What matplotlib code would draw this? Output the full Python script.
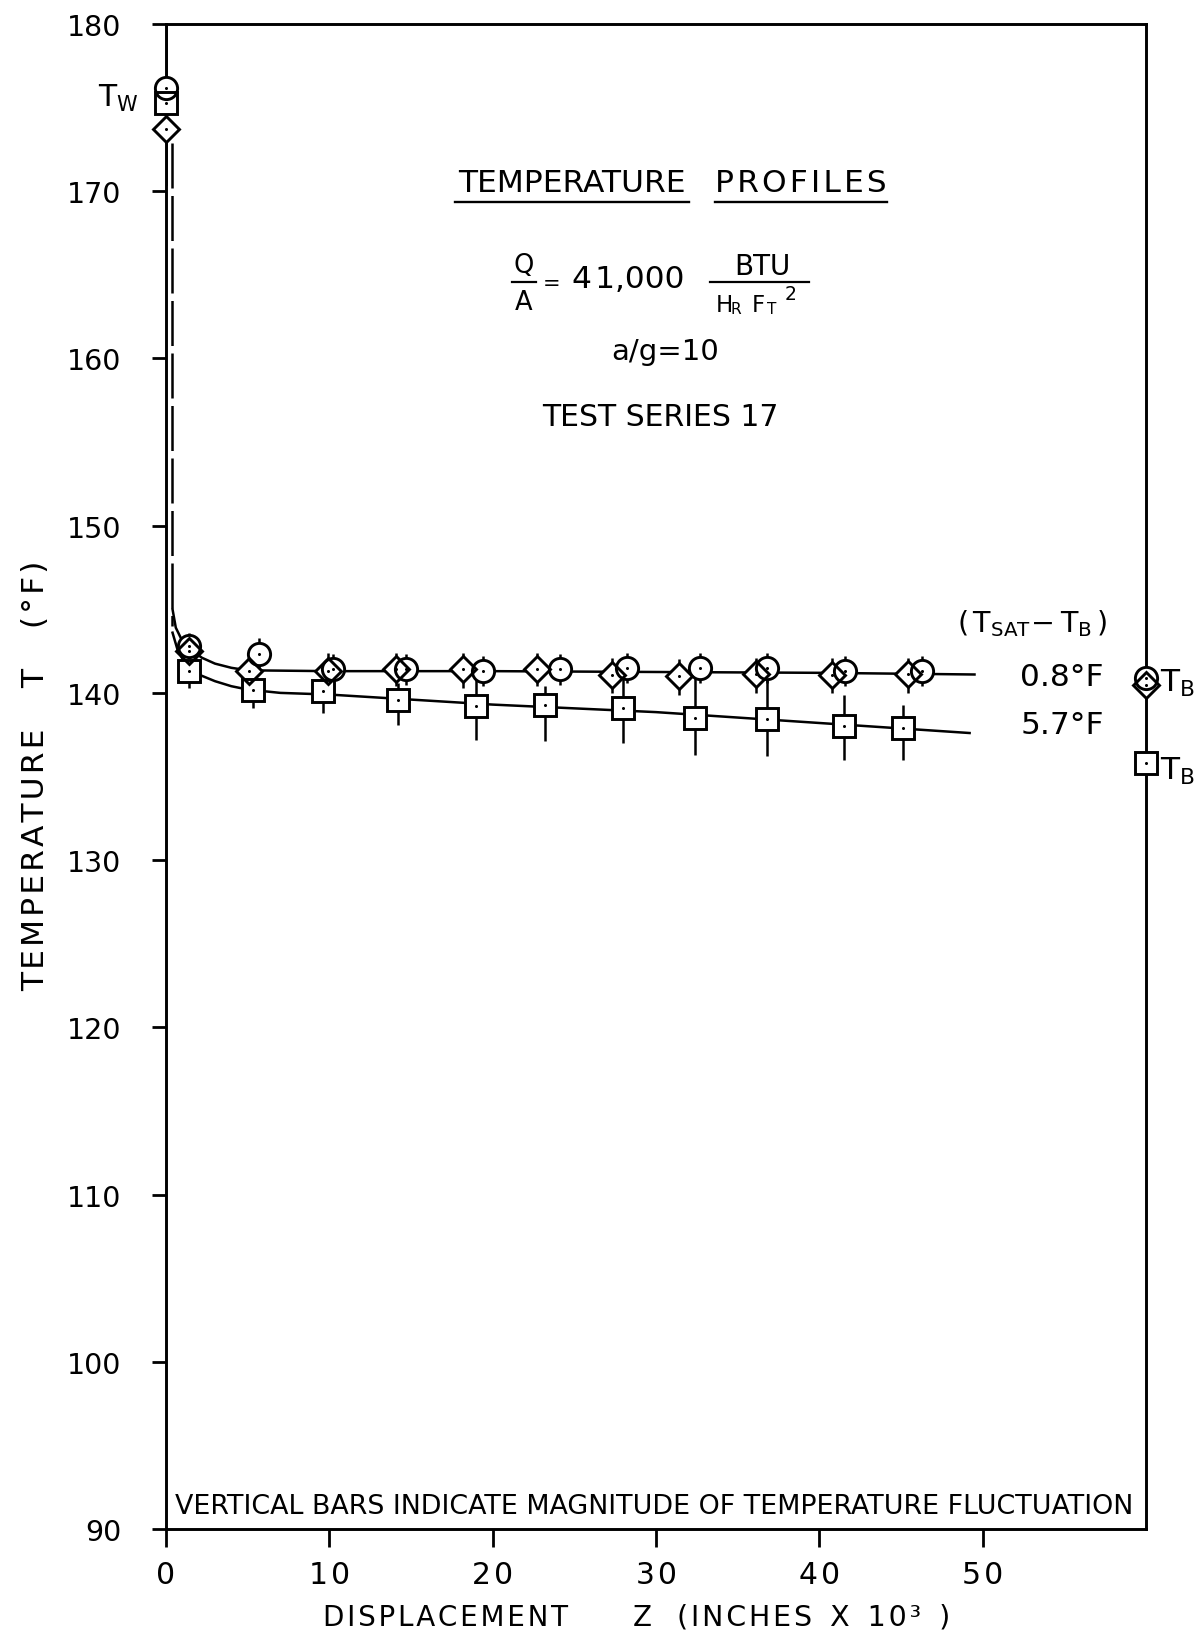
import matplotlib
matplotlib.use("Agg")
import matplotlib.pyplot as plt
from matplotlib.lines import Line2D

plt.rcParams["font.family"] = ["DejaVu Sans"]
plt.rcParams["mathtext.fontset"] = "custom"
plt.rcParams["mathtext.rm"] = "DejaVu Sans"
plt.rcParams["mathtext.it"] = "DejaVu Sans"

FIG_W, FIG_H = 1202, 1633

# ---------------- data ----------------
z_ticks = [0, 10, 20, 30, 40, 50]
t_ticks = [90, 100, 110, 120, 130, 140, 150, 160, 170, 180]
z_max = 60.0

# wall temperatures at Z = 0
tw_circle, tw_square, tw_diamond = 176.2, 175.3, 173.7
# bulk temperatures, shown on the right border
tb_circle, tb_diamond, tb_square = 140.9, 140.5, 135.8

# run with circles
z_circle = [1.4, 5.7, 10.2, 14.7, 19.4, 24.1, 28.2, 32.7, 36.8, 41.6, 46.3]
t_circle = [142.8, 142.3, 141.4, 141.4, 141.3, 141.4, 141.5, 141.5, 141.5, 141.3, 141.3]
lo_circle = [141.9, 141.4, 140.5, 140.5, 140.4, 140.5, 140.6, 140.6, 140.6, 140.4, 140.4]
hi_circle = [143.6, 143.3, 142.3, 142.3, 142.2, 142.3, 142.4, 142.4, 142.4, 142.2, 142.2]

# run with diamonds
z_diamond = [1.4, 5.1, 9.9, 14.1, 18.2, 22.7, 27.3, 31.4, 36.1, 40.8, 45.4]
t_diamond = [142.5, 141.3, 141.3, 141.4, 141.4, 141.4, 141.05, 141.0, 141.1, 141.05, 141.1]
lo_diamond = [141.5, 140.3, 140.3, 140.4, 140.3, 140.4, 140.0, 139.9, 140.0, 140.0, 140.0]
hi_diamond = [143.4, 142.3, 142.4, 142.4, 142.4, 142.4, 142.1, 142.0, 142.1, 142.1, 142.1]

# run with squares
z_square = [1.4, 5.3, 9.6, 14.2, 19.0, 23.2, 28.0, 32.4, 36.8, 41.5, 45.1]
t_square = [141.3, 140.2, 140.1, 139.6, 139.2, 139.3, 139.1, 138.5, 138.45, 138.0, 137.9]
lo_square = [140.3, 139.1, 138.8, 138.1, 137.2, 137.1, 137.0, 136.3, 136.2, 136.0, 136.0]
hi_square = [142.0, 141.4, 141.8, 140.6, 141.3, 140.4, 140.9, 140.9, 140.9, 139.9, 139.3]

# faired profile curves
curve_hi_z = [0.4, 0.6, 1.0, 1.5, 2.2, 3.0, 4.0, 5.0, 10.0, 20.0, 30.0, 40.0, 49.5]
curve_hi_t = [145.0, 143.9, 143.1, 142.6, 142.1, 141.75, 141.5, 141.35, 141.3, 141.3, 141.25, 141.2, 141.1]
curve_lo_z = [0.4, 0.7, 1.2, 2.0, 3.0, 4.0, 5.0, 7.0, 10.0, 20.0, 30.0, 40.0, 49.2]
curve_lo_t = [143.6, 142.6, 141.7, 141.1, 140.7, 140.4, 140.2, 140.0, 139.9, 139.3, 138.85, 138.2, 137.6]

# dashed connection from the wall values down to the profiles
wall_link_z = [0.35, 0.35]
wall_link_t = [172.9, 144.0]

curve_labels = ["0.8°F", "5.7°F"]

HAIR = "\u200a"


def spaced(s, gap=HAIR):
    return gap.join(s)


def fx(x):
    return x / FIG_W


def fy(y):
    return 1.0 - y / FIG_H


fig = plt.figure(figsize=(FIG_W / 100, FIG_H / 100), dpi=100)
fig.patch.set_facecolor("white")
ax = fig.add_axes([fx(166), fy(1530), fx(1146) - fx(166), fy(25) - fy(1530)])
ax.set_xlim(0, z_max)
ax.set_ylim(90, 180)

for s in ax.spines.values():
    s.set_linewidth(2.1)
    s.set_color("black")

ax.set_xticks(z_ticks)
ax.set_xticklabels([spaced(str(v)) for v in z_ticks])
ax.set_yticks(t_ticks)
ax.set_yticklabels([str(v) for v in t_ticks])
ax.tick_params(axis="y", direction="out", length=10, width=2.0, pad=22, labelsize=20.5)
ax.tick_params(axis="x", direction="out", length=13, width=2.0, pad=9, labelsize=21.5)

LW = 1.8
INK = "black"

# profile curves
ax.plot(curve_hi_z, curve_hi_t, color=INK, lw=LW, zorder=2)
ax.plot(curve_lo_z, curve_lo_t, color=INK, lw=LW, zorder=2)
ax.plot(wall_link_z, wall_link_t, color=INK, lw=LW, ls=(0, (18, 3)), zorder=2)

# fluctuation bars
ax.vlines(z_circle, lo_circle, hi_circle, color=INK, lw=LW, zorder=2)
ax.vlines(z_diamond, lo_diamond, hi_diamond, color=INK, lw=LW, zorder=2)
ax.vlines(z_square, lo_square, hi_square, color=INK, lw=LW, zorder=2)
ax.vlines([0], [tw_circle], [180], color=INK, lw=LW, zorder=2)
ax.vlines([0], [170.3], [tw_diamond], color=INK, lw=2.6, zorder=2)

marker_sets = [
    ("o", 16.0, z_circle + [0, z_max], t_circle + [tw_circle, tb_circle]),
    ("s", 16.0, z_square + [0, z_max], t_square + [tw_square, tb_square]),
    ("D", 13.2, z_diamond + [0, z_max], t_diamond + [tw_diamond, tb_diamond]),
]

# white fills first, then outlines so overlapping symbols both show
for mk, ms, zz, tt in marker_sets:
    ax.plot(zz, tt, ls="none", marker=mk, ms=ms, mfc="white", mec="none",
            zorder=3, clip_on=False)
for mk, ms, zz, tt in marker_sets:
    ax.plot(zz, tt, ls="none", marker=mk, ms=ms, mfc="none", mec=INK, mew=2.1,
            zorder=4, clip_on=False)
    ax.plot(zz, tt, ls="none", marker="o", ms=2.2, mfc=INK, mec="none",
            zorder=5, clip_on=False)


# ---------------- lettering ----------------
def ftext(x, y, s, size, ha="center", va="center", **kw):
    return fig.text(fx(x), fy(y), s, fontsize=size, ha=ha, va=va, color=INK, **kw)


def fline(x0, x1, y, lw=1.7):
    fig.add_artist(Line2D([fx(x0), fx(x1)], [fy(y), fy(y)], color=INK, lw=lw,
                          transform=fig.transFigure))


def fit(txt, size, span):
    """Scale a text's font so that it covers the given pixel width."""
    fig.canvas.draw()
    bb = txt.get_window_extent()
    txt.set_fontsize(size * span / bb.width)


ftext(572, 183, "TEMPERATURE", 22.5)
ftext(801, 183, spaced("PROFILES"), 22.5)
fline(455, 689, 203)
fline(715, 887, 203)

ftext(524, 266, "Q", 18.5)
fline(512, 536, 283, lw=1.6)
ftext(524, 303, "A", 18.5)
ftext(552, 284, "=", 15)
ftext(628, 280, "4" + HAIR + "1,000", 22.5)
ftext(762, 267, "BTU", 20)
fline(710, 809, 283, lw=1.6)
ftext(716, 306, "H", 16.5, ha="left")
ftext(731, 309, "R", 11, ha="left")
ftext(752, 306, "F", 16.5, ha="left")
ftext(767, 309, "T", 11, ha="left")
ftext(785, 295, "2", 13.5, ha="left")

ftext(665, 352, "a/g=10", 21)
ftext(660, 418, "TEST SERIES 17", 21.5)

ftext(118, 98, r"$\mathrm{T_W}$", 21.5)
ftext(1160, 683, r"$\mathrm{T_B}$", 22.5, ha="left")
ftext(1160, 771, r"$\mathrm{T_B}$", 22.5, ha="left")
ftext(1032, 624, r"$(\,\mathrm{T_{SAT}}\!-\mathrm{T_B}\,)$", 20.5)
ftext(1104, 677, curve_labels[0], 22.5, ha="right")
ftext(1104, 726, curve_labels[1], 22.5, ha="right")

# y-axis title, lettered in three words
ftext(36, 860, spaced("TEMPERATURE"), 22.5, rotation=90)
ftext(36, 679, "T", 22.5, rotation=90)
ftext(36, 594, spaced("(°F)"), 22.5, rotation=90)

# x-axis title
ftext(323, 1618, spaced("DISPLACEMENT"), 20, ha="left")
ftext(642, 1618, "Z", 20)
ftext(677, 1618, spaced("(INCHES") + "  X  " + spaced("10³") + "  )", 20.5, ha="left")

# note inside the frame, fitted to the frame width
note = ftext(654, 1507, "VERTICAL BARS INDICATE MAGNITUDE OF TEMPERATURE FLUCTUATION",
             22, family=["Liberation Sans Narrow", "DejaVu Sans"])
fit(note, 22, 958)

fig.savefig("out.png", dpi=100, facecolor="white")
